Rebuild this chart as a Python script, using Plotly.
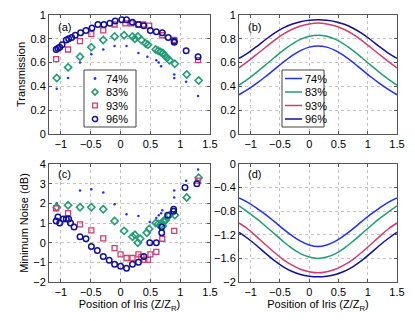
import plotly.graph_objects as go

# ---- (a) measured transmission ----
za_74 = [-1.07, -0.88, -0.68, -0.49, -0.29, -0.10, 0.10, 0.30, 0.45, 0.60, 0.64, 0.68, 0.90, 0.90, 1.10, 1.30]
ta_74 = [0.38, 0.47, 0.60, 0.67, 0.71, 0.74, 0.74, 0.68, 0.65, 0.62, 0.60, 0.57, 0.50, 0.47, 0.44, 0.32]

za_83 = [-1.07, -0.88, -0.68, -0.49, -0.29, -0.10, 0.06, 0.20, 0.24, 0.29, 0.35, 0.42, 0.46,
         0.59, 0.63, 0.67, 0.71, 0.74, 0.78, 0.82, 0.91, 1.11, 1.31]
ta_83 = [0.47, 0.56, 0.65, 0.73, 0.79, 0.82, 0.83, 0.82, 0.80, 0.82, 0.79, 0.76, 0.75,
         0.71, 0.70, 0.69, 0.68, 0.66, 0.64, 0.62, 0.59, 0.50, 0.45]

za_93 = [-1.08, -0.88, -0.68, -0.49, -0.29, -0.10, 0.08, 0.18, 0.30, 0.38, 0.48, 0.70, 0.90, 1.30]
ta_93 = [0.63, 0.71, 0.78, 0.84, 0.87, 0.92, 0.93, 0.93, 0.92, 0.92, 0.91, 0.83, 0.79, 0.62]

za_96 = [-1.08, -1.05, -1.02, -0.98, -0.91, -0.87, -0.82, -0.76, -0.67, -0.58, -0.48, -0.38, -0.28, -0.18,
         -0.09, 0.02, 0.10, 0.20, 0.30, 0.39, 0.50, 0.60, 0.70, 0.80, 0.90, 0.90, 1.10, 1.30]
ta_96 = [0.71, 0.72, 0.73, 0.75, 0.79, 0.80, 0.81, 0.83, 0.85, 0.87, 0.89, 0.92, 0.92, 0.93,
         0.95, 0.96, 0.96, 0.94, 0.92, 0.91, 0.87, 0.86, 0.85, 0.81, 0.78, 0.77, 0.70, 0.65]

# ---- (c) measured minimum noise ----
zc_74 = [-1.07, -0.68, -0.49, -0.29, -0.10, 0.10, 0.30, 0.49, 0.60, 0.64, 0.68, 0.70, 0.90, 0.90, 1.10, 1.30]
nc_74 = [2.0, 2.65, 2.72, 2.55, 1.95, 1.45, 1.35, 1.05, 1.25, 1.4, 1.5, 1.65, 2.3, 2.65, 3.15, 3.72]

zc_83 = [-1.07, -0.88, -0.68, -0.49, -0.29, -0.10, 0.06, 0.20, 0.24, 0.29, 0.33, 0.44, 0.48,
         0.59, 0.63, 0.67, 0.71, 0.72, 0.74, 0.76, 0.82, 0.91, 1.11, 1.31]
nc_83 = [1.8, 1.9, 1.8, 1.8, 1.7, 1.1, 0.6, 0.3, 0.4, 0.0, 0.2, 0.5, 0.7,
         1.0, 0.95, 0.9, 0.85, 1.1, 1.1, 1.15, 1.4, 1.4, 2.3, 3.3]

zc_93 = [-1.08, -0.88, -0.68, -0.49, -0.29, -0.10, 0.00, 0.10, 0.20, 0.30, 0.35, 0.40, 0.46, 0.50, 0.60, 0.70, 0.90, 1.30]
nc_93 = [1.75, 1.5, 0.93, 0.62, 0.22, -0.28, -0.6, -0.78, -0.78, -0.6, -0.72, -0.87, -0.87, -0.6, -0.47, 0.2, 0.6, 3.15]

zc_96 = [-1.08, -1.05, -1.02, -0.96, -0.91, -0.87, -0.84, -0.78, -0.68, -0.58, -0.49, -0.39, -0.29, -0.19,
         -0.10, 0.00, 0.10, 0.20, 0.30, 0.39, 0.49, 0.60, 0.69, 0.69, 0.79, 0.89, 0.89, 1.08, 1.28]
nc_96 = [1.1, 1.3, 1.0, 1.2, 1.2, 1.2, 1.0, 0.8, 0.3, 0.2, -0.2, -0.4, -0.7, -0.9,
         -1.1, -1.2, -1.3, -1.1, -1.0, -0.7, 0.0, 0.0, 0.5, 0.8, 1.4, 1.7, 1.6, 2.8, 3.0]

# ---- (b), (d) theory curves ----
z_th = [-1.2, -1.05, -0.9, -0.75, -0.6, -0.45, -0.3, -0.15, 0.0, 0.15,
        0.3, 0.45, 0.6, 0.75, 0.9, 1.05, 1.2, 1.35, 1.5]
tb_74 = [0.330, 0.375, 0.426, 0.481, 0.541, 0.601, 0.656, 0.701, 0.730, 0.740,
         0.730, 0.701, 0.656, 0.601, 0.541, 0.481, 0.426, 0.375, 0.330]
tb_83 = [0.410, 0.461, 0.518, 0.579, 0.641, 0.701, 0.754, 0.795, 0.821, 0.830,
         0.821, 0.795, 0.754, 0.701, 0.641, 0.579, 0.518, 0.461, 0.410]
tb_93 = [0.555, 0.610, 0.668, 0.727, 0.785, 0.837, 0.878, 0.908, 0.925, 0.932,
         0.925, 0.908, 0.878, 0.837, 0.785, 0.727, 0.668, 0.610, 0.555]
tb_96 = [0.635, 0.680, 0.734, 0.792, 0.845, 0.889, 0.922, 0.944, 0.956, 0.960,
         0.956, 0.944, 0.922, 0.889, 0.845, 0.792, 0.734, 0.680, 0.635]
nd_74 = [-0.575, -0.650, -0.747, -0.854, -0.973, -1.096, -1.211, -1.308, -1.372, -1.400,
         -1.372, -1.308, -1.211, -1.096, -0.973, -0.854, -0.747, -0.650, -0.575]
nd_83 = [-0.710, -0.814, -0.927, -1.050, -1.179, -1.308, -1.425, -1.518, -1.577, -1.600,
         -1.577, -1.518, -1.425, -1.308, -1.179, -1.050, -0.927, -0.814, -0.710]
nd_93 = [-1.000, -1.102, -1.230, -1.365, -1.495, -1.615, -1.711, -1.784, -1.825, -1.845,
         -1.825, -1.784, -1.711, -1.615, -1.495, -1.365, -1.230, -1.102, -1.000]
nd_96 = [-1.160, -1.263, -1.381, -1.511, -1.634, -1.738, -1.818, -1.872, -1.903, -1.913,
         -1.903, -1.872, -1.818, -1.738, -1.634, -1.511, -1.381, -1.263, -1.160]

labels = ['74%', '83%', '93%', '96%']
colors = ['#1f2fff', '#1f9e74', '#d23c6e', '#10109a']

W, H = 415, 321
ML, MR, MT, MB = 49, 18, 15, 39
PW, PH = W - ML - MR, H - MT - MB


def px(x):
    # pixel column -> paper x
    return (x - ML) / PW


def py(y):
    # pixel row -> paper y
    return 1 - (y - MT) / PH


fig = go.Figure()

meas_a = [(za_74, ta_74), (za_83, ta_83), (za_93, ta_93), (za_96, ta_96)]
meas_c = [(zc_74, nc_74), (zc_83, nc_83), (zc_93, nc_93), (zc_96, nc_96)]
markers = [
    dict(symbol='circle', size=2.5),
    dict(symbol='diamond-open', size=5.5, line=dict(width=1.6)),
    dict(symbol='square-open', size=5, line=dict(width=1.3)),
    dict(symbol='circle-open', size=5.5, line=dict(width=1.5)),
]
for i in range(4):
    m = dict(markers[i], color=colors[i])
    fig.add_trace(go.Scatter(x=meas_a[i][0], y=meas_a[i][1], mode='markers', marker=m,
                             name=labels[i], showlegend=False, xaxis='x', yaxis='y'))
    fig.add_trace(go.Scatter(x=meas_c[i][0], y=meas_c[i][1], mode='markers', marker=m,
                             name=labels[i], showlegend=False, xaxis='x3', yaxis='y3'))

theory_b = [tb_74, tb_83, tb_93, tb_96]
theory_d = [nd_74, nd_83, nd_93, nd_96]
for i in range(4):
    ln = dict(color=colors[i], width=1.5, shape='spline')
    fig.add_trace(go.Scatter(x=z_th, y=theory_b[i], mode='lines', line=ln,
                             name=labels[i], showlegend=False, xaxis='x2', yaxis='y2'))
    fig.add_trace(go.Scatter(x=z_th, y=theory_d[i], mode='lines', line=ln,
                             name=labels[i], showlegend=False, xaxis='x4', yaxis='y4'))

xdom_l = [px(49), px(210)]
xdom_r = [px(239), px(397)]
ydom_t = [py(134), py(15)]
ydom_b = [py(282), py(164)]

axis_common = dict(showline=True, linecolor='#555', linewidth=1, mirror='ticks',
                   ticks='inside', ticklen=3, tickcolor='#555',
                   showgrid=True, gridcolor='#c4c4c4', griddash='dot', gridwidth=1,
                   zeroline=False, automargin=False, tickfont=dict(size=11, color='black'))
xticks = dict(tickvals=[-1, -0.5, 0, 0.5, 1, 1.5], ticktext=['−1', '−0.5', '0', '0.5', '1', '1.5'])
xtitle = dict(text='Position of Iris (Z/Z<sub>R</sub>)', font=dict(size=11), standoff=2)

fig.update_layout(
    width=W, height=H,
    margin=dict(l=ML, r=MR, t=MT, b=MB, pad=0),
    paper_bgcolor='white', plot_bgcolor='white',
    font=dict(family='Liberation Sans, Arial, sans-serif', color='black', size=11),
    showlegend=False,
    xaxis=dict(axis_common, domain=xdom_l, range=[-1.2, 1.5], anchor='y', **xticks),
    yaxis=dict(axis_common, domain=ydom_t, range=[0, 1], dtick=0.2, anchor='x',
               title=dict(text='Transmission', font=dict(size=11), standoff=2)),
    xaxis2=dict(axis_common, domain=xdom_r, range=[-1.2, 1.5], anchor='y2', **xticks),
    yaxis2=dict(axis_common, domain=ydom_t, range=[0, 1], dtick=0.2, anchor='x2'),
    xaxis3=dict(axis_common, domain=xdom_l, range=[-1.2, 1.5], anchor='y3', title=xtitle, **xticks),
    yaxis3=dict(axis_common, domain=ydom_b, range=[-2, 4], dtick=1, anchor='x3',
                title=dict(text='Minimum Noise (dB)', font=dict(size=11), standoff=2)),
    xaxis4=dict(axis_common, domain=xdom_r, range=[-1.2, 1.5], anchor='y4', title=xtitle, **xticks),
    yaxis4=dict(axis_common, domain=ydom_b, range=[-2, 0], anchor='x4',
                tickvals=[0, -0.4, -0.8, -1.2, -1.6, -2],
                ticktext=['0', '−0.4', '−0.8', '−1.2', '−1.6', '−2']),
)

# panel letters
for lab, xr, yr in [('(a)', 56, 27), ('(b)', 246, 27), ('(c)', 56, 174), ('(d)', 246, 174)]:
    fig.add_annotation(text=lab, x=px(xr), y=py(yr), xref='paper', yref='paper',
                       xanchor='left', yanchor='middle', showarrow=False, font=dict(size=11))

# legend boxes (drawn by hand to get MATLAB's compact row spacing)
rows = [78.5, 92, 105.5, 119]
fig.add_shape(type='rect', xref='paper', yref='paper', x0=px(84), x1=px(136), y0=py(127), y1=py(70),
              line=dict(color='#444', width=1), fillcolor='white', layer='above')
fig.add_shape(type='rect', xref='paper', yref='paper', x0=px(282), x1=px(324), y0=py(127), y1=py(70),
              line=dict(color='#444', width=1), fillcolor='white', layer='above')


def glyph(kind, cx, cy, r):
    if kind == 'diamond':
        pts = [(cx, cy - r), (cx + r, cy), (cx, cy + r), (cx - r, cy)]
    else:
        pts = [(cx - r, cy - r), (cx + r, cy - r), (cx + r, cy + r), (cx - r, cy + r)]
    return 'M ' + ' L '.join(f'{px(a):.5f},{py(b):.5f}' for a, b in pts) + ' Z'


mx = 95
for i, ry in enumerate(rows):
    c = colors[i]
    if i == 0:
        fig.add_shape(type='circle', xref='paper', yref='paper', x0=px(mx - 1.2), x1=px(mx + 1.2),
                      y0=py(ry + 1.2), y1=py(ry - 1.2), fillcolor=c, line=dict(color=c, width=0.5), layer='above')
    elif i == 1:
        fig.add_shape(type='path', xref='paper', yref='paper', path=glyph('diamond', mx, ry, 3.0),
                      line=dict(color=c, width=1.6), layer='above')
    elif i == 2:
        fig.add_shape(type='path', xref='paper', yref='paper', path=glyph('square', mx, ry, 2.3),
                      line=dict(color=c, width=1.3), layer='above')
    else:
        fig.add_shape(type='circle', xref='paper', yref='paper', x0=px(mx - 2.6), x1=px(mx + 2.6),
                      y0=py(ry + 2.6), y1=py(ry - 2.6), line=dict(color=c, width=1.5), layer='above')
    fig.add_annotation(text=labels[i], x=px(104), y=py(ry), xref='paper', yref='paper',
                       xanchor='left', yanchor='middle', showarrow=False, font=dict(size=11))
    fig.add_shape(type='line', xref='paper', yref='paper', x0=px(285), x1=px(302), y0=py(ry), y1=py(ry),
                  line=dict(color=c, width=1.5), layer='above')
    fig.add_annotation(text=labels[i], x=px(302.5), y=py(ry), xref='paper', yref='paper',
                       xanchor='left', yanchor='middle', showarrow=False, font=dict(size=11))

fig.write_html("out.html", config={'displayModeBar': False},
               post_script="document.body.style.margin='0';")
